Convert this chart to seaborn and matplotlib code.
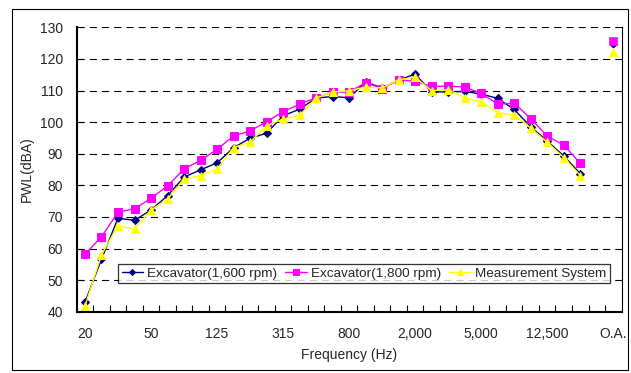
import pandas as pd
import matplotlib.pyplot as plt
import matplotlib.patches as mpatches
import seaborn as sns

# === Data (1/3 octave bands + overall) ===
bands = ["20", "25", "31.5", "40", "50", "63", "80", "100", "125", "160", "200",
         "250", "315", "400", "500", "630", "800", "1,000", "1,250", "1,600",
         "2,000", "2,500", "3,150", "4,000", "5,000", "6,300", "8,000",
         "10,000", "12,500", "16,000", "20,000"]
categories = bands + ["", "O.A."]

exc_1600 = [43.0, 56.6, 69.6, 68.9, 72.2, 76.7, 82.6, 84.9, 87.1, 91.9, 94.9,
            96.5, 102.0, 104.1, 107.6, 108.1, 107.7, 112.7, 110.8, 113.3, 115.2,
            109.5, 109.6, 109.7, 108.9, 107.5, 104.0, 98.5, 94.0, 89.3, 83.7]
exc_1800 = [58.2, 63.7, 71.5, 72.6, 75.9, 79.8, 85.2, 87.9, 91.4, 95.6, 97.2,
            100.1, 103.3, 105.7, 107.7, 109.5, 109.5, 112.5, 110.6, 113.4, 112.9,
            111.3, 111.4, 111.1, 109.1, 105.7, 106.0, 101.1, 95.6, 92.7, 87.0]
meas_sys = [41.8, 58.0, 67.2, 66.1, 72.2, 75.6, 81.9, 83.1, 85.2, 91.9, 93.7,
            98.8, 101.0, 102.2, 107.6, 109.5, 109.9, 111.1, 110.8, 113.4, 114.2,
            109.9, 110.3, 107.7, 106.4, 103.0, 102.2, 98.1, 93.6, 88.8, 83.1]
overall = {"Excavator(1,600 rpm)": 124.8,
           "Excavator(1,800 rpm)": 125.8,
           "Measurement System": 122.1}

series = {"Excavator(1,600 rpm)": exc_1600,
          "Excavator(1,800 rpm)": exc_1800,
          "Measurement System": meas_sys}
styles = {"Excavator(1,600 rpm)": ("#000080", "D", 4),
          "Excavator(1,800 rpm)": ("#FF00FF", "s", 5.5),
          "Measurement System": ("#FFFF00", "^", 6)}

# === Plot ===
sns.set_theme(style="white")
plt.rcParams['font.family'] = ['Liberation Sans', 'DejaVu Sans']

fig = plt.figure(figsize=(6.31, 3.73), dpi=100)
ax = fig.add_axes([0.1216, 0.1643, 0.8634, 0.7625])

for name, vals in series.items():
    color, marker, ms = styles[name]
    df = pd.DataFrame({"pos": range(len(vals)), "PWL": vals})
    sns.lineplot(data=df, x="pos", y="PWL", ax=ax, color=color, marker=marker,
                 markersize=ms, markeredgecolor=color, linewidth=1, label=name)
    oa = pd.DataFrame({"pos": [categories.index("O.A.")], "PWL": [overall[name]]})
    sns.scatterplot(data=oa, x="pos", y="PWL", ax=ax, color=color, marker=marker,
                    s=ms ** 2, edgecolor=color, legend=False, zorder=3)

# axes
ax.set_xlim(-0.5, len(categories) - 0.5)
ax.set_ylim(40, 130)
ax.set_yticks(range(40, 131, 10))
label_pos = list(range(0, len(categories), 4))
ax.set_xticks(label_pos)
ax.set_xticklabels([categories[i] for i in label_pos])
ax.set_xticks([i + 0.5 for i in range(len(categories) - 1)], minor=True)
ax.tick_params(axis='x', which='major', length=0, pad=11, labelsize=10)
ax.tick_params(axis='x', which='minor', direction='in', length=5, width=0.8,
               color='black', bottom=True)
ax.tick_params(axis='y', direction='in', length=4, width=0.8, color='black',
               left=True, pad=10, labelsize=10)

ax.grid(axis='y', color='black', linestyle=(0, (6.5, 4.5)), linewidth=0.8)
ax.grid(axis='x', visible=False)
for side in ['left', 'bottom']:
    ax.spines[side].set_color('black')
    ax.spines[side].set_linewidth(1.5)
ax.spines['right'].set_color('black')
ax.spines['right'].set_linewidth(0.8)
ax.spines['top'].set_visible(False)

ax.set_xlabel('Frequency (Hz)', fontsize=10, labelpad=5)
ax.set_ylabel('PWL(dBA)', fontsize=10)
ax.yaxis.set_label_coords(-0.078, 0.5)

leg = ax.legend(loc='center', bbox_to_anchor=(0.527, 0.133), ncol=3,
                fontsize=9.7, frameon=True, fancybox=False, handlelength=1.6,
                handletextpad=0.3, columnspacing=0.6, borderpad=0.25,
                borderaxespad=0, markerscale=0.75)
leg.get_frame().set_edgecolor('black')
leg.get_frame().set_linewidth(0.9)

# outer chart border
fig.patches.append(mpatches.Rectangle((0.019, 0.008), 0.976, 0.968,
                                      transform=fig.transFigure, fill=False,
                                      edgecolor='black', linewidth=0.8))

plt.savefig('out.png', dpi=100)
